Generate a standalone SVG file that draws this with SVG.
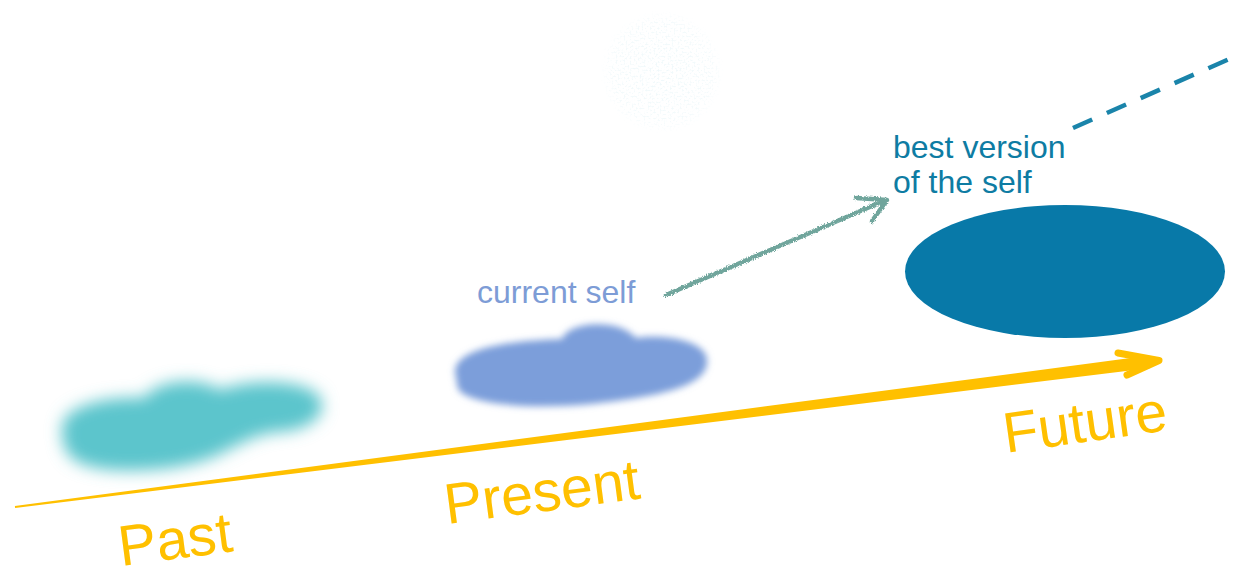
<svg xmlns="http://www.w3.org/2000/svg" width="1238" height="574" viewBox="0 0 1238 574">
  <defs>
    <style>
      .axis-label { font-family: "Liberation Sans", Arial, sans-serif; font-size: 57px; fill: #FFC000; }
      .self-label { font-family: "Liberation Sans", Arial, sans-serif; font-size: 32px; }
      .timeline { fill: #FFC000; }
      .timeline-head { fill: none; stroke: #FFC000; stroke-width: 7; stroke-linecap: round; stroke-linejoin: round; }
      .growth { fill: none; stroke: #6FA59C; stroke-width: 4.5; stroke-linecap: round; stroke-linejoin: round; }
      .aspiration { fill: none; stroke: #1A84AA; stroke-width: 4.5; stroke-dasharray: 21 16; stroke-linecap: butt; }
    </style>
    <filter id="softBlur" x="-30%" y="-50%" width="160%" height="200%">
      <feGaussianBlur stdDeviation="8"/>
    </filter>
    <filter id="lightBlur" x="-20%" y="-40%" width="140%" height="180%">
      <feGaussianBlur stdDeviation="3.5"/>
    </filter>
    <filter id="chalk" x="-10%" y="-30%" width="120%" height="160%">
      <feTurbulence type="fractalNoise" baseFrequency="0.9" numOctaves="2" seed="7" result="noise"/>
      <feDisplacementMap in="SourceGraphic" in2="noise" scale="4" xChannelSelector="R" yChannelSelector="G"/>
    </filter>
    <filter id="speckle" x="0" y="0" width="100%" height="100%">
      <feTurbulence type="fractalNoise" baseFrequency="0.5" numOctaves="2" seed="11" result="noise"/>
      <feColorMatrix in="noise" type="matrix" values="0 0 0 0 0.78  0 0 0 0 0.9  0 0 0 0 0.93  4 0 0 0 -1.95" result="dots"/>
      <feComposite in="dots" in2="SourceGraphic" operator="in"/>
    </filter>
    <radialGradient id="moonFade">
      <stop offset="0" stop-color="#fff" stop-opacity="0.6"/>
      <stop offset="0.8" stop-color="#fff" stop-opacity="0.45"/>
      <stop offset="1" stop-color="#fff" stop-opacity="0"/>
    </radialGradient>
  </defs>

  <rect width="1238" height="574" fill="#ffffff"/>

  <!-- faint speckled disc -->
  <g id="moon">
    <circle cx="662" cy="72" r="62" fill="url(#moonFade)" filter="url(#speckle)"/>
  </g>

  <!-- past self: diffuse teal cloud -->
  <g id="past-self">
    <path d="M 62 430 C 60 405, 110 396, 145 398 C 155 380, 200 376, 220 390 C 245 380, 300 378, 318 395 C 332 412, 310 432, 275 432 C 250 436, 238 446, 215 456 C 180 472, 105 476, 78 462 C 64 454, 62 442, 62 430 Z" fill="#5BC5CC" filter="url(#softBlur)"/>
  </g>

  <!-- current self: blue cloud -->
  <g id="current-self">
    <path d="M 455 372 C 455 350, 500 341, 562 339 C 568 321, 620 318, 636 338 C 662 334, 706 340, 707 360 C 709 386, 660 396, 600 403 C 540 410, 470 406, 458 389 Z" fill="#7B9EDA" filter="url(#lightBlur)"/>
    <text class="self-label" x="477" y="303" fill="#7D9CD6">current self</text>
  </g>

  <!-- best version of the self -->
  <g id="best-self">
    <ellipse cx="1065" cy="271.5" rx="160" ry="66.5" fill="#0879A8"/>
    <text class="self-label" fill="#0E7CA3">
      <tspan x="893" y="158">best version</tspan>
      <tspan x="893" y="193">of the self</tspan>
    </text>
  </g>

  <!-- timeline labels -->
  <g id="timeline-labels">
    <text class="axis-label" x="121" y="566" transform="rotate(-7.5 121 566)">Past</text>
    <text class="axis-label" x="447" y="524" transform="rotate(-7.5 447 524)">Present</text>
    <text class="axis-label" x="1006" y="453" transform="rotate(-8 1006 453)">Future</text>
  </g>

  <g id="connectors">
    <!-- timeline arrow, tapering from left to right -->
    <polygon class="timeline" points="14.9,506 1149.2,355.5 1150.8,368 15.1,508"/>
    <polyline class="timeline-head" points="1118,353 1159,360.5 1127,375"/>

    <!-- chalk arrow from current self toward the best version -->
    <g filter="url(#chalk)">
      <path class="growth" d="M 666 295 L 886 200"/>
      <path class="growth" d="M 856 198 L 887 200 L 872 221"/>
    </g>

    <!-- dashed aspiration line running off the top edge -->
    <path class="aspiration" d="M 1073 128 L 1245 52"/>
  </g>
</svg>
